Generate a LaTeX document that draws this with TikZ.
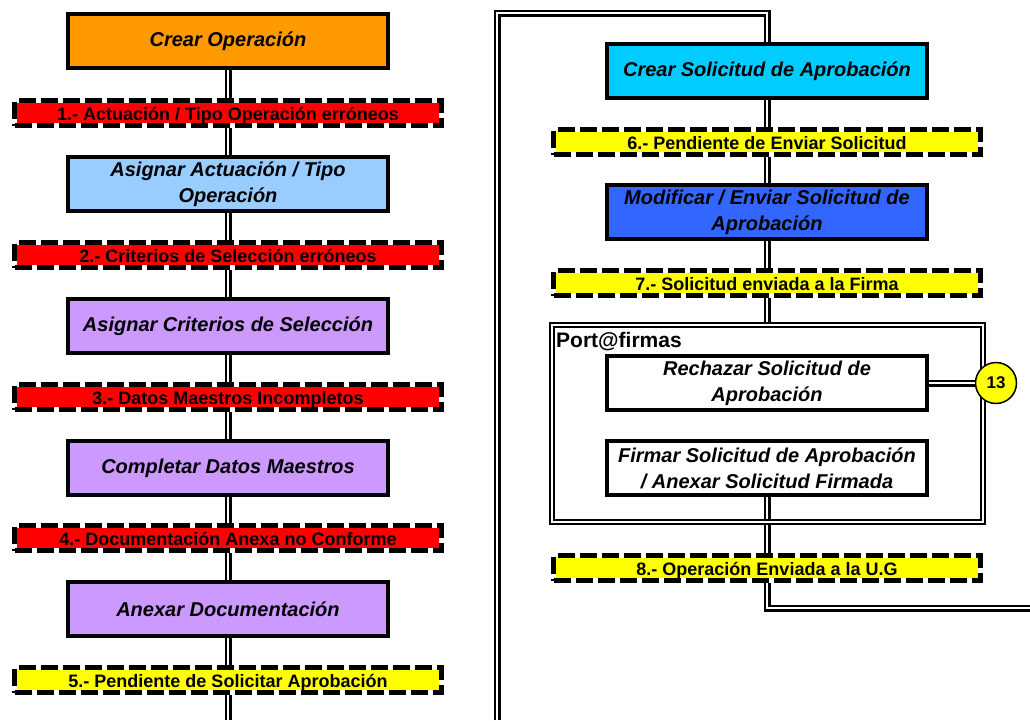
\documentclass[tikz,border=0pt]{standalone}
\usepackage{fontspec}
\setmainfont{Liberation Sans}
\usetikzlibrary{backgrounds}
\definecolor{corange}{HTML}{FF9900}
\definecolor{clblue}{HTML}{99CCFF}
\definecolor{clav}{HTML}{CC99FF}
\definecolor{ccyan}{HTML}{00CCFF}
\definecolor{cblue}{HTML}{3366FF}
\definecolor{cred}{HTML}{FF0000}
\definecolor{cyel}{HTML}{FFFF00}
\begin{document}
\begin{tikzpicture}[x=1pt,y=-1pt,
 proc/.style={draw, line width=4pt, fill=#1, minimum width=320pt, minimum height=54pt, align=center, inner sep=0pt, font=\fontsize{20}{26}\selectfont\bfseries\itshape},
 proc/.default=white,
 status/.style={fill=#1, draw=white, line width=5pt, minimum width=427pt, minimum height=25pt, inner sep=0pt, text height=15pt, text depth=0pt, font=\fontsize{18}{20}\selectfont\bfseries, postaction={draw=black, line width=5pt, dash pattern=on 17pt off 5pt}},
 dbl/.style={draw, line width=2.5pt, double=white, double distance=2pt, line join=miter},
]
\useasboundingbox (0,0) rectangle (1030,720);
% left column
\node[proc=corange] (crear) at (228,41) {Crear Operación};
\node[status=cred] (s1) at (228,113) {1.- Actuación / Tipo Operación erróneos};
\node[proc=clblue] (asigact) at (228,184) {Asignar Actuación / Tipo\\Operación};
\node[status=cred] (s2) at (228,255) {2.- Criterios de Selección erróneos};
\node[proc=clav] (asigcrit) at (228,326) {Asignar Criterios de Selección};
\node[status=cred] (s3) at (228,397) {3.- Datos Maestros Incompletos};
\node[proc=clav] (compl) at (228,468) {Completar Datos Maestros};
\node[status=cred] (s4) at (228,538) {4.- Documentación Anexa no Conforme};
\node[proc=clav] (anexar) at (228,609) {Anexar Documentación};
\node[status=cyel] (s5) at (228,680) {5.- Pendiente de Solicitar Aprobación};
\coordinate (lend) at (228,720);
% right column
\node[proc=ccyan] (csol) at (767,71) {Crear Solicitud de Aprobación};
\node[status=cyel] (s6) at (767,142) {6.- Pendiente de Enviar Solicitud};
\node[proc=cblue] (modif) at (767,212) {Modificar / Enviar Solicitud de\\Aprobación};
\node[status=cyel] (s7) at (767,283) {7.- Solicitud enviada a la Firma};
\node[draw, line width=2pt, double=white, double distance=2pt, minimum width=431pt, minimum height=197pt, inner sep=0pt] (port) at (767,423.5) {};
\node[anchor=base west, inner sep=0pt, font=\fontsize{21}{21}\selectfont\bfseries] (plabel) at (556,347) {Port@firmas};
\node[proc] (rech) at (767,383) {Rechazar Solicitud de\\Aprobación};
\node[proc] (firm) at (767,468) {Firmar Solicitud de Aprobación\\/ Anexar Solicitud Firmada};
\node[circle, draw, line width=1.5pt, fill=cyel, minimum size=41pt, inner sep=0pt, font=\fontsize{17}{17}\selectfont\bfseries] (c13) at (996,383) {13};
\node[status=cyel] (s8) at (767,568) {8.- Operación Enviada a la U.G};
\coordinate (bl) at (497,720);
\coordinate (tl) at (497,13);
\coordinate (tr) at (767,13);
\coordinate (b1) at (767,608);
\coordinate (b2) at (1030,608);
\begin{scope}[on background layer]
\draw[dbl] (crear.south) -- (lend);
\draw[dbl] (bl) -- (tl) -- (tr) -- (csol.north);
\draw[dbl] (csol.south) -- (port.north);
\draw[dbl] (firm.south) -- (b1) -- (b2);
\end{scope}
\draw[dbl] (rech.east) -- (c13.west);
\end{tikzpicture}
\end{document}
